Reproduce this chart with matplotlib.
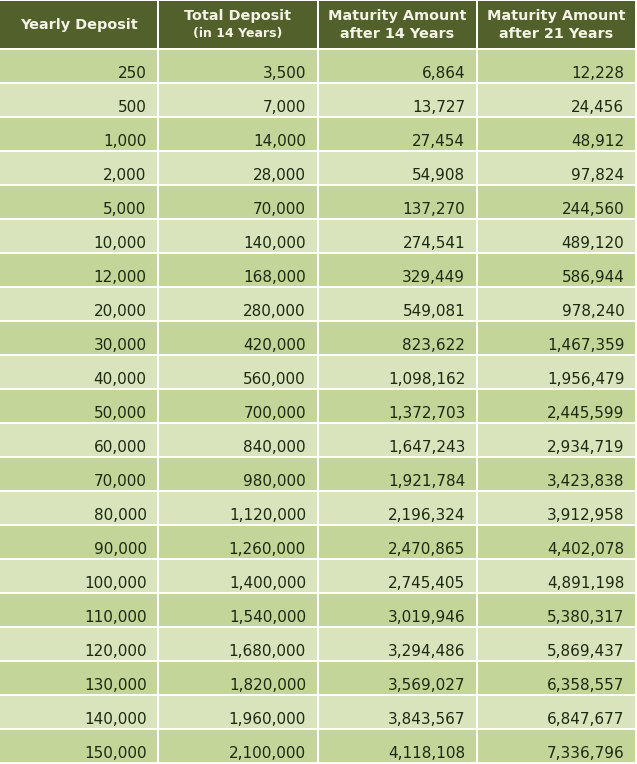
import matplotlib.pyplot as plt
from matplotlib.patches import Rectangle

yearly = [250, 500, 1000, 2000, 5000, 10000, 12000, 20000, 30000, 40000, 50000,
          60000, 70000, 80000, 90000, 100000, 110000, 120000, 130000, 140000, 150000]
total_14 = [3500, 7000, 14000, 28000, 70000, 140000, 168000, 280000, 420000, 560000,
            700000, 840000, 980000, 1120000, 1260000, 1400000, 1540000, 1680000,
            1820000, 1960000, 2100000]
maturity_14 = [6864, 13727, 27454, 54908, 137270, 274541, 329449, 549081, 823622,
               1098162, 1372703, 1647243, 1921784, 2196324, 2470865, 2745405,
               3019946, 3294486, 3569027, 3843567, 4118108]
maturity_21 = [12228, 24456, 48912, 97824, 244560, 489120, 586944, 978240, 1467359,
               1956479, 2445599, 2934719, 3423838, 3912958, 4402078, 4891198,
               5380317, 5869437, 6358557, 6847677, 7336796]
headers = [("Yearly Deposit", None), ("Total Deposit", "(in 14 Years)"),
           ("Maturity Amount", "after 14 Years"), ("Maturity Amount", "after 21 Years")]

W, H = 637, 764
HEAD_H = 48
ROW_H = 34
GAP = 2
col_w = W / 4

header_col = "#52602b"
dark_row = "#c4d59a"
light_row = "#d9e4bd"
text_col = "#1d2a12"
head_text = "#f4f4e6"

fig = plt.figure(figsize=(W / 100, H / 100), dpi=100)
ax = fig.add_axes([0, 0, 1, 1])
ax.set_xlim(0, W)
ax.set_ylim(H, 0)
ax.axis("off")
fig.patch.set_facecolor("white")

# header
for c, (line1, line2) in enumerate(headers):
    x0 = c * col_w
    ax.add_patch(Rectangle((x0, 1), col_w - GAP, HEAD_H - 1, color=header_col, lw=0))
    cx = x0 + (col_w - GAP) / 2
    if line2 is None:
        ax.text(cx, 25, line1, ha="center", va="center", color=head_text,
                fontsize=10.4, fontweight="bold")
    else:
        ax.text(cx, 16, line1, ha="center", va="center", color=head_text,
                fontsize=10.4, fontweight="bold")
        small = 9 if line2.startswith("(") else 10.4
        ax.text(cx, 34, line2, ha="center", va="center", color=head_text,
                fontsize=small, fontweight="bold")

# rows
columns = [yearly, total_14, maturity_14, maturity_21]
for r in range(len(yearly)):
    y0 = HEAD_H + GAP + r * ROW_H
    face = dark_row if r % 2 == 0 else light_row
    for c, vals in enumerate(columns):
        x0 = c * col_w
        ax.add_patch(Rectangle((x0, y0), col_w - GAP, ROW_H - GAP, color=face, lw=0))
        ax.text(x0 + col_w - GAP - 10.5, y0 + ROW_H - GAP - 4, f"{vals[r]:,}",
                ha="right", va="baseline", color=text_col, fontsize=11)

fig.savefig("out.png", dpi=100)
